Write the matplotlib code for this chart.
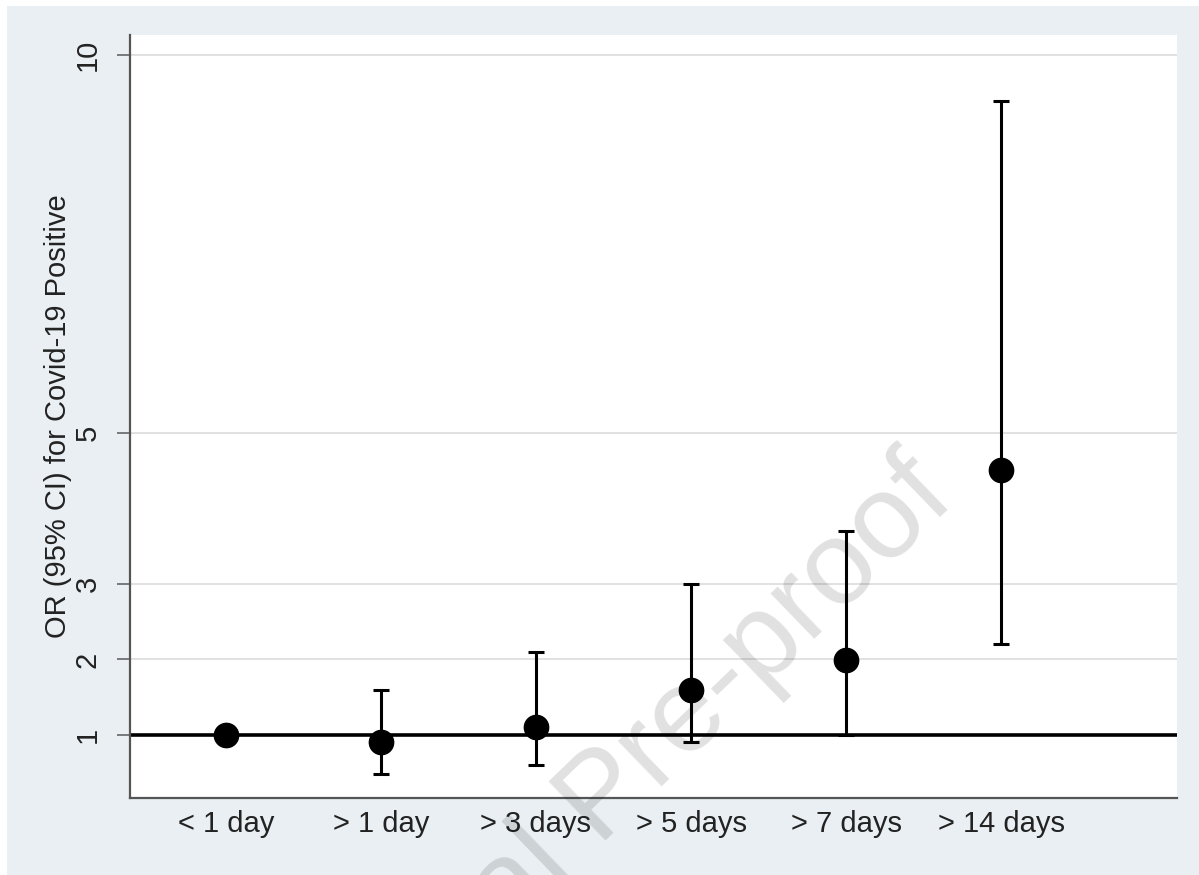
import matplotlib
matplotlib.use("Agg")
import matplotlib.pyplot as plt
from matplotlib.patches import Rectangle

# ---- data ----
categories = ["< 1 day", "> 1 day", "> 3 days", "> 5 days", "> 7 days", "> 14 days"]
odds_ratio = [1.00, 0.91, 1.11, 1.60, 1.99, 4.51]
ci_lower = [None, 0.49, 0.60, 0.91, 1.00, 2.20]
ci_upper = [None, 1.60, 2.10, 3.00, 3.70, 9.39]
y_ticks = [1, 2, 3, 5, 10]
y_label = "OR (95% CI) for Covid-19 Positive"
watermark = "Journal Pre-proof"

plt.rcParams['font.family'] = ['Liberation Sans', 'DejaVu Sans']

W, H = 1199, 875
fig = plt.figure(figsize=(W / 100, H / 100), dpi=100, facecolor="white")
bg = "#E9EFF2"
fig.patches.append(Rectangle((7 / W, 0), 1 - 7 / W, 1 - 6 / H, transform=fig.transFigure,
                             facecolor=bg, edgecolor="none", zorder=-10))

ax = fig.add_axes([130 / W, (H - 798) / H, (1177 - 130) / W, (798 - 35) / H])
ax.set_facecolor("white")

x = list(range(1, len(categories) + 1))

# gridlines
for t in y_ticks:
    ax.axhline(t, color="#DCDCDC", lw=1.2, zorder=1)
# reference line at OR = 1
ax.axhline(1, color="black", lw=2.6, zorder=2)

# error bars (only where CI exists)
for xi, o, lo, hi in zip(x, odds_ratio, ci_lower, ci_upper):
    if lo is None:
        continue
    ax.errorbar([xi], [o], yerr=[[o - lo], [hi - o]], fmt="none", ecolor="black",
                elinewidth=2.2, capsize=6, capthick=2.2, zorder=3)
ax.plot(x, odds_ratio, "o", color="black", markersize=17.5, zorder=4, linestyle="none")

ax.set_xlim(0.381, 7.135)
ax.set_ylim(0.166, 10.265)
ax.set_yticks(y_ticks)
ax.set_yticklabels([str(t) for t in y_ticks], rotation=90, va="center", fontsize=21, color="#222222")
ax.set_xticks(x)
ax.set_xticklabels(categories, fontsize=21, color="#222222")
ax.tick_params(axis="x", length=0, pad=9)
ax.tick_params(axis="y", length=9.5, width=1.2, color="#666666", pad=11)
ax.set_ylabel(y_label, fontsize=21, color="#222222", labelpad=1)

for s in ["top", "right"]:
    ax.spines[s].set_visible(False)
for s in ["left", "bottom"]:
    ax.spines[s].set_color("#555555")
    ax.spines[s].set_linewidth(1.6)

# watermark
fig.text(604 / W, 1 - 800 / H, watermark, rotation=44, rotation_mode="anchor",
         ha="center", va="center", fontsize=86, color="black", alpha=0.12, zorder=20)

fig.savefig("out.png", dpi=100, facecolor=fig.get_facecolor())
